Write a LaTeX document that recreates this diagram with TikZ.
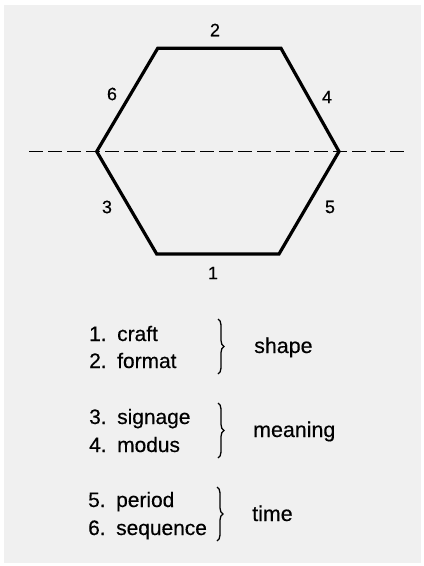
\documentclass[tikz,border=0pt]{standalone}
\usepackage{fontspec}
\setmainfont{Liberation Sans}[FakeBold=0.4]
\usetikzlibrary{decorations.pathreplacing}
\begin{document}
\begin{tikzpicture}[x=1bp,y=-1bp,
  hexline/.style={line width=3.2bp, line join=miter},
  axis/.style={line width=1.3bp, dash pattern=on 14bp off 5bp},
  edgelabel/.style={font=\fontsize{18}{20}\selectfont, inner sep=0pt},
  itemtext/.style={font=\fontsize{21}{25}\selectfont, anchor=base west, inner sep=0pt},
  grouptext/.style={font=\fontsize{21.5}{25}\selectfont, anchor=base west, inner sep=0pt},
  bracestyle/.style={line width=1.3bp, decorate, decoration={brace, amplitude=6bp, aspect=0.5}}]
\useasboundingbox (0,0) rectangle (423,566);
\fill[white] (0,0) rectangle (423,566);
\fill[black!6] (4,5) rectangle (421,563);
% hexagon vertices
\coordinate (L) at (96.7,151.5);
\coordinate (TL) at (157.7,48.3);
\coordinate (TR) at (281,48.3);
\coordinate (R) at (339,151.5);
\coordinate (BR) at (279,254);
\coordinate (BL) at (156.7,254);
\coordinate (DL) at (29,151.5);
\coordinate (DR) at (407,151.5);
\draw[axis] (DL) -- (DR);
\draw[hexline] (L) -- (TL) -- (TR) -- (R) -- (BR) -- (BL) -- cycle;
% edge labels
\node[edgelabel] (n2) at (215,30) {2};
\node[edgelabel] (n6) at (112,94) {6};
\node[edgelabel] (n4) at (327,97) {4};
\node[edgelabel] (n3) at (107,207) {3};
\node[edgelabel] (n5) at (330,207) {5};
\node[edgelabel] (n1) at (213,273) {1};
% list
\node[itemtext] (i1) at (89,341) {1.};
\node[itemtext] (w1) at (117,341) {craft};
\node[itemtext] (i2) at (89,368) {2.};
\node[itemtext] (w2) at (117,368) {format};
\node[itemtext] (i3) at (89,424) {3.};
\node[itemtext] (w3) at (117,424) {signage};
\node[itemtext] (i4) at (89,452) {4.};
\node[itemtext] (w4) at (117,452) {modus};
\node[itemtext] (i5) at (88,507) {5.};
\node[itemtext] (w5) at (116,507) {period};
\node[itemtext] (i6) at (88,535) {6.};
\node[itemtext] (w6) at (116,535) {sequence};
% braces
\coordinate (b1t) at (218,319);
\coordinate (b1b) at (218,374);
\coordinate (b2t) at (218,403);
\coordinate (b2b) at (218,458);
\coordinate (b3t) at (217,487);
\coordinate (b3b) at (217,541);
\draw[bracestyle] (b1t) -- (b1b);
\draw[bracestyle] (b2t) -- (b2b);
\draw[bracestyle] (b3t) -- (b3b);
% group labels
\node[grouptext] (g1) at (254,353) {shape};
\node[grouptext] (g2) at (253,437) {meaning};
\node[grouptext] (g3) at (252,521) {time};
\end{tikzpicture}
\end{document}
